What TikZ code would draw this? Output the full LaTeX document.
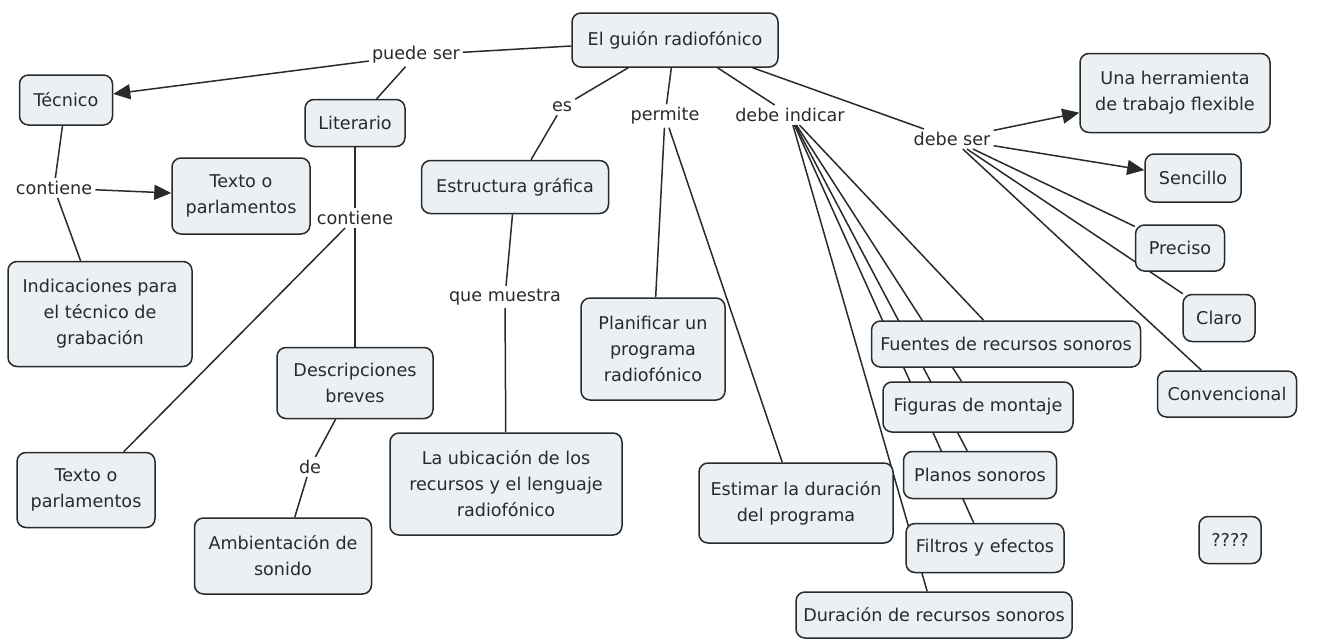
\documentclass[tikz,border=0pt]{standalone}
\usepackage{fontspec}
\setmainfont{DejaVu Sans}
\usetikzlibrary{arrows.meta,backgrounds}
\definecolor{cfill}{HTML}{EAF0F3}
\definecolor{cline}{HTML}{2A2A2A}
\tikzset{
  concept/.style={draw=cline, line width=1.5pt, fill=cfill, rounded corners=9pt, align=center,
    inner sep=2pt, text=cline, font=\fontsize{17.6}{26}\selectfont},
  lbl/.style={inner sep=3pt, text=cline, font=\fontsize{17.6}{26}\selectfont},
  conn/.style={draw=cline, line width=1.5pt},
  arr/.style={conn, -{Triangle[length=17pt,width=15pt]}},
}
\begin{document}
\begin{tikzpicture}[x=1pt,y=-1pt]
\useasboundingbox (0,0) rectangle (1339,640);
% concepts
\node[concept, minimum width=206, minimum height=54] (guion) at (675,40) {El guión radiofónico};
\node[concept, minimum width=93, minimum height=50] (tecnico) at (66,100) {Técnico};
\node[concept, minimum width=100, minimum height=47] (literario) at (355,123) {Literario};
\node[concept, minimum width=138, minimum height=76] (texto1) at (241,196) {Texto o\\parlamentos};
\node[concept, minimum width=184, minimum height=105] (indic) at (100,314) {Indicaciones para\\el técnico de\\grabación};
\node[concept, minimum width=187, minimum height=53] (estruct) at (515,187) {Estructura gráfica};
\node[concept, minimum width=144, minimum height=102] (planif) at (653,349) {Planificar un\\programa\\radiofónico};
\node[concept, minimum width=232, minimum height=102] (ubic) at (506,484) {La ubicación de los\\recursos y el lenguaje\\radiofónico};
\node[concept, minimum width=156, minimum height=71] (descr) at (355,383) {Descripciones\\breves};
\node[concept, minimum width=138, minimum height=75] (texto2) at (86,490) {Texto o\\parlamentos};
\node[concept, minimum width=177, minimum height=76] (ambient) at (283,556) {Ambientación de\\sonido};
\node[concept, minimum width=194, minimum height=80] (estimar) at (796,503) {Estimar la duración\\del programa};
\node[concept, minimum width=269, minimum height=46] (fuentes) at (1006,344) {Fuentes de recursos sonoros};
\node[concept, minimum width=190, minimum height=50] (figuras) at (978,407) {Figuras de montaje};
\node[concept, minimum width=153, minimum height=47] (planos) at (980,475) {Planos sonoros};
\node[concept, minimum width=158, minimum height=49] (filtros) at (985,548) {Filtros y efectos};
\node[concept, minimum width=276, minimum height=46] (duracion) at (934,615) {Duración de recursos sonoros};
\node[concept, minimum width=62, minimum height=47] (qq) at (1230,540) {????};
\node[concept, minimum width=139, minimum height=46] (convenc) at (1227,394) {Convencional};
\node[concept, minimum width=72, minimum height=47] (claro) at (1219,318) {Claro};
\node[concept, minimum width=89, minimum height=46] (preciso) at (1180,248) {Preciso};
\node[concept, minimum width=96, minimum height=48] (sencillo) at (1193,178) {Sencillo};
\node[concept, minimum width=190, minimum height=79] (herram) at (1175,93) {Una herramienta\\de trabajo flexible};
% linking phrases
\node[lbl] (puede) at (416,55) {puede ser};
\node[lbl] (es) at (562,107) {es};
\node[lbl] (permite) at (665,116) {permite};
\node[lbl] (debeind) at (790,115) {debe indicar};
\node[lbl] (debeser) at (952,139) {debe ser};
\node[lbl] (cont1) at (54,188) {contiene};
\node[lbl] (cont2) at (355,218) {contiene};
\node[lbl] (qmuestra) at (505,297) {que muestra};
\node[lbl] (de) at (310,467) {de};
% connectors
\begin{scope}[on background layer]
\draw[conn] (guion) -- (puede);
\draw[arr] (puede) -- (tecnico);
\draw[conn] (puede) -- (literario);
\draw[conn] (guion) -- (es);
\draw[conn] (es) -- (estruct);
\draw[conn] (guion) -- (permite);
\draw[conn] (permite) -- (planif);
\draw[conn] (permite) -- (estimar);
\draw[conn] (guion) -- (debeind);
\draw[conn] (debeind) -- (fuentes);
\draw[conn] (debeind) -- (figuras);
\draw[conn] (debeind) -- (planos);
\draw[conn] (debeind) -- (filtros);
\draw[conn] (debeind) -- (duracion);
\draw[conn] (guion) -- (debeser);
\draw[arr] (debeser) -- (herram);
\draw[arr] (debeser) -- (sencillo);
\draw[conn] (debeser) -- (preciso);
\draw[conn] (debeser) -- (claro);
\draw[conn] (debeser) -- (convenc);
\draw[conn] (tecnico) -- (cont1);
\draw[arr] (cont1) -- (texto1);
\draw[conn] (cont1) -- (indic);
\draw[conn] (literario) -- (cont2);
\draw[conn] (cont2) -- (descr);
\draw[conn] (cont2) -- (texto2);
\draw[conn] (estruct) -- (qmuestra);
\draw[conn] (qmuestra) -- (ubic);
\draw[conn] (descr) -- (de);
\draw[conn] (de) -- (ambient);
\end{scope}
\end{tikzpicture}
\end{document}
